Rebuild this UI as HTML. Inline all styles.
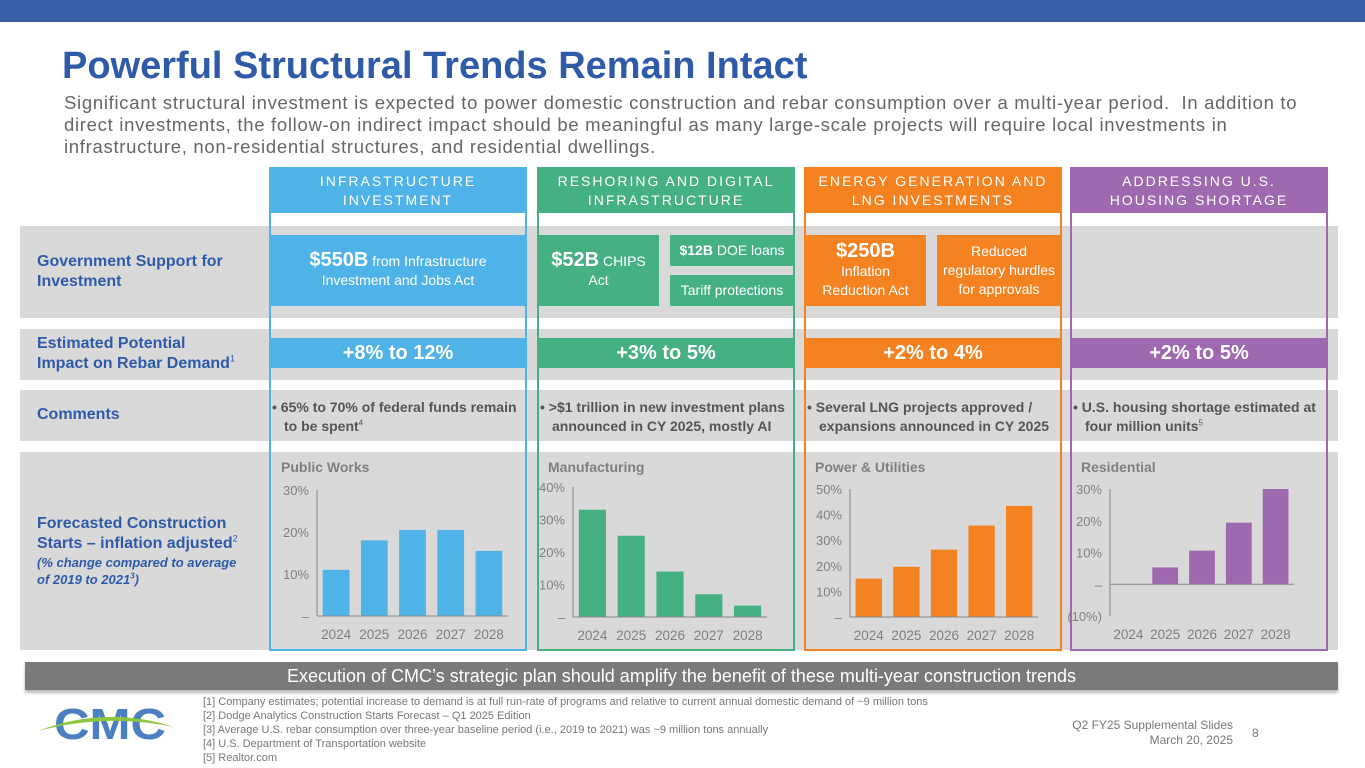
<!DOCTYPE html>
<html><head><meta charset="utf-8"><style>
*{margin:0;padding:0;box-sizing:border-box}
body{width:1365px;height:768px;position:relative;background:#fff;font-family:"Liberation Sans",sans-serif;overflow:hidden}
sup{line-height:0;vertical-align:super}
.a{position:absolute}
.band{position:absolute;left:20px;width:1318px;background:#d9d9d9}
.lab{position:absolute;left:37px;color:#2e5aa8;font-weight:bold;font-size:16px;line-height:20px}
.hdr{position:absolute;top:167px;height:46px;color:#fff;font-size:14px;letter-spacing:2px;text-align:center;line-height:19px;padding-top:5px}
.col{position:absolute;top:167px;height:484px;border:2px solid}
.box{position:absolute;color:#fff;text-align:center;display:flex;align-items:center;justify-content:center;font-size:14px;line-height:19px}
.pct{position:absolute;top:338px;height:30px;color:#fff;font-weight:bold;font-size:20px;text-align:center;line-height:30px}
.cm{position:absolute;top:398px;color:#555;font-weight:bold;font-size:14px;line-height:19px;padding-left:12px;text-indent:-12px;width:250px}
.ct{position:absolute;top:459px;color:#7f7f7f;font-weight:bold;font-size:14px}
</style></head><body>
<div class="a" style="left:0;top:0;width:1365px;height:22px;background:#3a5fa9"></div>
<div class="a" style="left:62px;top:45px;font-size:38px;font-weight:bold;color:#2e5aa8">Powerful Structural Trends Remain Intact</div>
<div class="a" style="left:64px;top:92px;width:1290px;font-size:18.5px;letter-spacing:0.7px;line-height:22px;color:#666;white-space:nowrap">Significant structural investment is expected to power domestic construction and rebar consumption over a multi-year period.&nbsp; In addition to<br>direct investments, the follow-on indirect impact should be meaningful as many large-scale projects will require local investments in<br>infrastructure, non-residential structures, and residential dwellings.</div>

<div class="band" style="top:226px;height:92px"></div>
<div class="band" style="top:329px;height:51px"></div>
<div class="band" style="top:390px;height:51px"></div>
<div class="band" style="top:452px;height:198px"></div>

<div class="lab" style="top:252px">Government Support for<br>Investment</div>
<div class="lab" style="top:334px">Estimated Potential<br>Impact on Rebar Demand<sup style="font-size:9px;font-weight:normal">1</sup></div>
<div class="lab" style="top:405px">Comments</div>
<div class="lab" style="top:514px">Forecasted Construction<br>Starts – inflation adjusted<sup style="font-size:9px;font-weight:normal">2</sup><div style="font-size:13px;font-style:italic;line-height:17px">(% change compared to average<br>of 2019 to 2021<sup style="font-size:8px">3</sup>)</div></div>

<div class="col" style="left:269px;width:258px;border-color:#4fb3e8"></div>
<div class="col" style="left:537px;width:258px;border-color:#45b082"></div>
<div class="col" style="left:804px;width:258px;border-color:#f58220"></div>
<div class="col" style="left:1070px;width:258px;border-color:#9e69af"></div>

<div class="hdr" style="left:269px;width:258px;background:#4fb3e8">INFRASTRUCTURE<br>INVESTMENT</div>
<div class="hdr" style="left:537px;width:258px;background:#45b082">RESHORING AND DIGITAL<br>INFRASTRUCTURE</div>
<div class="hdr" style="left:804px;width:258px;background:#f58220">ENERGY GENERATION AND<br>LNG INVESTMENTS</div>
<div class="hdr" style="left:1070px;width:258px;background:#9e69af">ADDRESSING U.S.<br>HOUSING SHORTAGE</div>

<div class="box" style="left:270px;top:235px;width:256px;height:71px;background:#4fb3e8"><div><b style="font-size:20px">$550B</b> from Infrastructure<br>Investment and Jobs Act</div></div>
<div class="box" style="left:538px;top:235px;width:121px;height:71px;background:#45b082"><div><b style="font-size:20px">$52B</b> CHIPS<br>Act</div></div>
<div class="box" style="left:670px;top:235px;width:124px;height:31px;background:#45b082"><div><b>$12B</b> DOE loans</div></div>
<div class="box" style="left:670px;top:275px;width:124px;height:31px;background:#45b082">Tariff protections</div>
<div class="box" style="left:805px;top:235px;width:121px;height:71px;background:#f58220"><div><b style="font-size:20px">$250B</b><br>Inflation<br>Reduction Act</div></div>
<div class="box" style="left:937px;top:235px;width:124px;height:71px;background:#f58220">Reduced<br>regulatory hurdles<br>for approvals</div>

<div class="pct" style="left:270px;width:256px;background:#4fb3e8">+8% to 12%</div>
<div class="pct" style="left:538px;width:256px;background:#45b082">+3% to 5%</div>
<div class="pct" style="left:805px;width:256px;background:#f58220">+2% to 4%</div>
<div class="pct" style="left:1071px;width:256px;background:#9e69af">+2% to 5%</div>

<div class="cm" style="left:272px">• 65% to 70% of federal funds remain to be spent<sup style="font-size:8px;font-weight:normal">4</sup></div>
<div class="cm" style="left:540px">• &gt;$1 trillion in new investment plans announced in CY 2025, mostly AI</div>
<div class="cm" style="left:807px">• Several LNG projects approved / expansions announced in CY 2025</div>
<div class="cm" style="left:1073px">• U.S. housing shortage estimated at four million units<sup style="font-size:8px;font-weight:normal">5</sup></div>

<div class="ct" style="left:281px">Public Works</div>
<div class="ct" style="left:548px">Manufacturing</div>
<div class="ct" style="left:815px">Power &amp; Utilities</div>
<div class="ct" style="left:1081px">Residential</div>

<svg id="charts" class="a" style="left:0;top:0" width="1365" height="768"></svg>

<div class="a" style="left:25px;top:662px;width:1313px;height:28px;background:#7a7a7a;color:#fff;font-size:18px;text-align:center;line-height:28px;box-shadow:0 3px 3px #bbb">Execution of CMC’s strategic plan should amplify the benefit of these multi-year construction trends</div>

<svg class="a" style="left:36px;top:697px" width="140" height="48">
<text x="18" y="42" font-family="Liberation Sans" font-weight="bold" font-size="44" fill="#4a7fc0" textLength="112" lengthAdjust="spacingAndGlyphs">CMC</text>
<path d="M2 34 Q70 8 138 30 Q70 16 2 34Z" fill="#8cc63f"/>
</svg>
<div class="a" style="left:203px;top:695px;font-size:11px;line-height:14px;color:#777">[1] Company estimates; potential increase to demand is at full run-rate of programs and relative to current annual domestic demand of ~9 million tons<br>[2] Dodge Analytics Construction Starts Forecast – Q1 2025 Edition<br>[3] Average U.S. rebar consumption over three-year baseline period (i.e., 2019 to 2021) was ~9 million tons annually<br>[4] U.S. Department of Transportation website<br>[5] Realtor.com</div>
<div class="a" style="left:1040px;top:718px;width:193px;text-align:right;font-size:12px;line-height:15px;color:#777">Q2 FY25 Supplemental Slides<br>March 20, 2025</div>
<div class="a" style="left:1252px;top:726px;font-size:12px;color:#777">8</div>

<script>
const years = ["2024","2025","2026","2027","2028"];
const publicWorks = [11, 18, 20.5, 20.5, 15.5];
const manufacturing = [33, 25, 14, 7, 3.5];
const power = [15, 19.6, 26.3, 35.7, 43.4];
const residential = [0, 5.3, 10.6, 19.4, 30];
const ticksPW = [0, 10, 20, 30];
const ticksMfg = [0, 10, 20, 30, 40];
const ticksPow = [0, 10, 20, 30, 40, 50];
const ticksRes = [-10, 0, 10, 20, 30];

const svg = document.getElementById('charts');
const NS = 'http://www.w3.org/2000/svg';
function mk(tag, attrs){const e=document.createElementNS(NS,tag);for(const k in attrs)e.setAttribute(k,attrs[k]);svg.appendChild(e);return e;}
function fmt(v){return v===0?'–':(v<0?'('+(-v)+'%)':v+'%');}
function drawChart(name, vals, ticks, color, x0, x1, yTop, yBot){
  const min=ticks[0], max=ticks[ticks.length-1];
  const y=v=>yBot-(v-min)/(max-min)*(yBot-yTop);
  const slot=(x1-x0)/vals.length;
  ticks.forEach(t=>{
    const tx=mk('text',{x:x0-8,y:y(t)+5,'text-anchor':'end','font-size':'13','fill':'#7f7f7f','font-family':'Liberation Sans'});
    
    
    tx.textContent=fmt(t);
  });
  vals.forEach((v,i)=>{
    const cx=x0+slot*(i+0.5), w=slot*0.7;
    const top=Math.min(y(v),y(0)), h=Math.abs(y(v)-y(0));
    const r=mk('rect',{x:cx-w/2,y:top,width:w,height:h,fill:color});
    
    
    const tx=mk('text',{x:cx,y:yBot+23,'text-anchor':'middle','font-size':'13.5','fill':'#7f7f7f','font-family':'Liberation Sans'});
    
    
    tx.textContent=years[i];
  });
  const ax=mk('line',{x1:x0,y1:yTop,x2:x0,y2:yBot,stroke:'#888','stroke-width':1});
  
  
  const bx=mk('line',{x1:x0,y1:y(0),x2:x1,y2:y(0),stroke:'#888','stroke-width':1});
  
  
}
drawChart('public-works', publicWorks, ticksPW, '#4fb3e8', 317, 508, 490, 616);
drawChart('manufacturing', manufacturing, ticksMfg, '#45b082', 573, 767, 487, 617);
drawChart('power', power, ticksPow, '#f58220', 850, 1038, 489, 617);
drawChart('residential', residential, ticksRes, '#9e69af', 1110, 1294, 489, 616);
</script>
</body></html>
